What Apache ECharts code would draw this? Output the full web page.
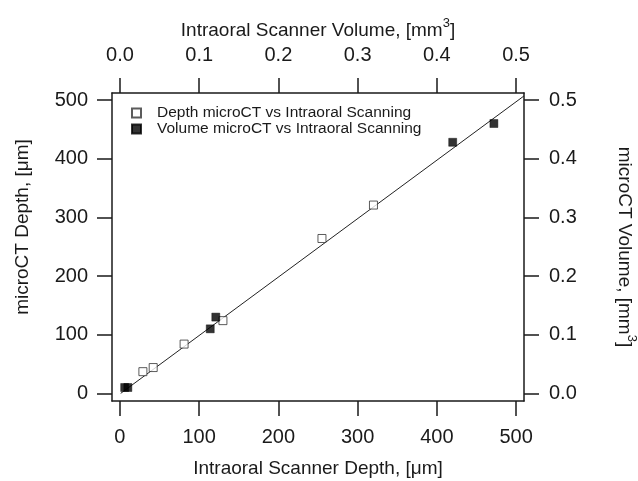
<!DOCTYPE html>
<html>
<head>
<meta charset="utf-8">
<script src="https://cdn.jsdelivr.net/npm/echarts@6.0.0/dist/echarts.min.js"></script>
<style>
  html, body, #main { width: 100%; height: 100%; margin: 0; background: #fff; }
</style>
</head>
<body>
<div id="main"></div>
<script>
// depth: microCT vs intraoral scanner, um
var depthScanner = [29, 42, 81, 130, 255, 320];
var depthMicroCT = [37, 44, 84, 124, 264, 321];
// volume: microCT vs intraoral scanner, mm3
var volScanner = [0.006, 0.010, 0.114, 0.121, 0.420, 0.472];
var volMicroCT = [0.010, 0.010, 0.110, 0.130, 0.428, 0.460];
// fitted line (depth units)
var fitX = [1, 510];
var fitY = [0, 507];
var depthTicks = [0, 100, 200, 300, 400, 500];
var volTicks = [0, 0.1, 0.2, 0.3, 0.4, 0.5];

function pairs(xs, ys) {
    return xs.map(function (x, i) { return [x, ys[i]]; });
}

var chart = echarts.init(document.getElementById('main'));
var font = 'Liberation Sans, Arial, sans-serif';
var black = '#1a1a1a';
var rich = {
    sup: { fontSize: 13, fontFamily: font, color: black, verticalAlign: 'top', padding: [0, 0, 14, 0] }
};

function axisCommon(ticks, fmt) {
    return {
        axisLine: { show: true, onZero: false, lineStyle: { color: black, width: 1.5 } },
        axisTick: { show: true, inside: false, length: 15, customValues: ticks, lineStyle: { color: black, width: 1.5 } },
        axisLabel: { customValues: ticks, color: black, fontSize: 20, fontFamily: font, formatter: fmt },
        splitLine: { show: false },
        nameLocation: 'middle',
        nameTextStyle: { color: black, fontSize: 19, fontFamily: font, rich: rich }
    };
}

var xBottom = Object.assign(axisCommon(depthTicks, function (v) { return String(Math.round(v)); }), {
    type: 'value', position: 'bottom', min: -10, max: 510,
    name: 'Intraoral Scanner Depth, [\u03bcm]', nameGap: 58
});
xBottom.axisLabel.margin = 26;

var xTop = Object.assign(axisCommon(volTicks, function (v) { return v.toFixed(1); }), {
    type: 'value', position: 'top', min: -0.010, max: 0.510,
    name: 'Intraoral Scanner Volume, [mm{sup|3}]', nameGap: 48
});
xTop.axisLabel.margin = 28;

var yLeft = Object.assign(axisCommon(depthTicks, function (v) { return String(Math.round(v)); }), {
    type: 'value', position: 'left', min: -13, max: 512,
    name: 'microCT Depth, [\u03bcm]', nameGap: 80, nameRotate: 90
});
yLeft.axisLabel.margin = 24;
yLeft.nameTextStyle = Object.assign({}, yLeft.nameTextStyle, { padding: [0, 0, 0, 40] });

var yRight = Object.assign(axisCommon(volTicks, function (v) { return v.toFixed(1); }), {
    type: 'value', position: 'right', min: -0.013, max: 0.512,
    name: 'microCT Volume, [mm{sup|3}]', nameGap: 87, nameRotate: -90
});
yRight.axisLabel.margin = 25;

chart.setOption({
    animation: false,
    backgroundColor: '#fff',
    grid: { left: 112, right: 114, top: 93, bottom: 80, outerBoundsMode: 'none' },
    legend: {
        orient: 'vertical',
        left: 126, top: 100,
        itemWidth: 9, itemHeight: 9, itemGap: 0,
        data: ['Depth microCT vs Intraoral Scanning', 'Volume microCT vs Intraoral Scanning'],
        textStyle: { color: black, fontSize: 15.5, fontFamily: font, padding: [0, 0, 0, 11] }
    },
    xAxis: [xBottom, xTop],
    yAxis: [yLeft, yRight],
    series: [
        {
            name: 'fit', type: 'line', xAxisIndex: 0, yAxisIndex: 0,
            data: pairs(fitX, fitY), symbol: 'none',
            lineStyle: { color: '#222', width: 1 }, z: 1
        },
        {
            name: 'Depth microCT vs Intraoral Scanning', type: 'scatter',
            xAxisIndex: 0, yAxisIndex: 0,
            data: pairs(depthScanner, depthMicroCT),
            symbol: 'rect', symbolSize: 8,
            itemStyle: { color: '#fff', borderColor: '#333', borderWidth: 1 }, z: 2
        },
        {
            name: 'Volume microCT vs Intraoral Scanning', type: 'scatter',
            xAxisIndex: 1, yAxisIndex: 1,
            data: pairs(volScanner, volMicroCT),
            symbol: 'rect', symbolSize: 8,
            itemStyle: { color: '#000', borderColor: '#000', borderWidth: 0.5 }, z: 3
        }
    ]
});
</script>
</body>
</html>
